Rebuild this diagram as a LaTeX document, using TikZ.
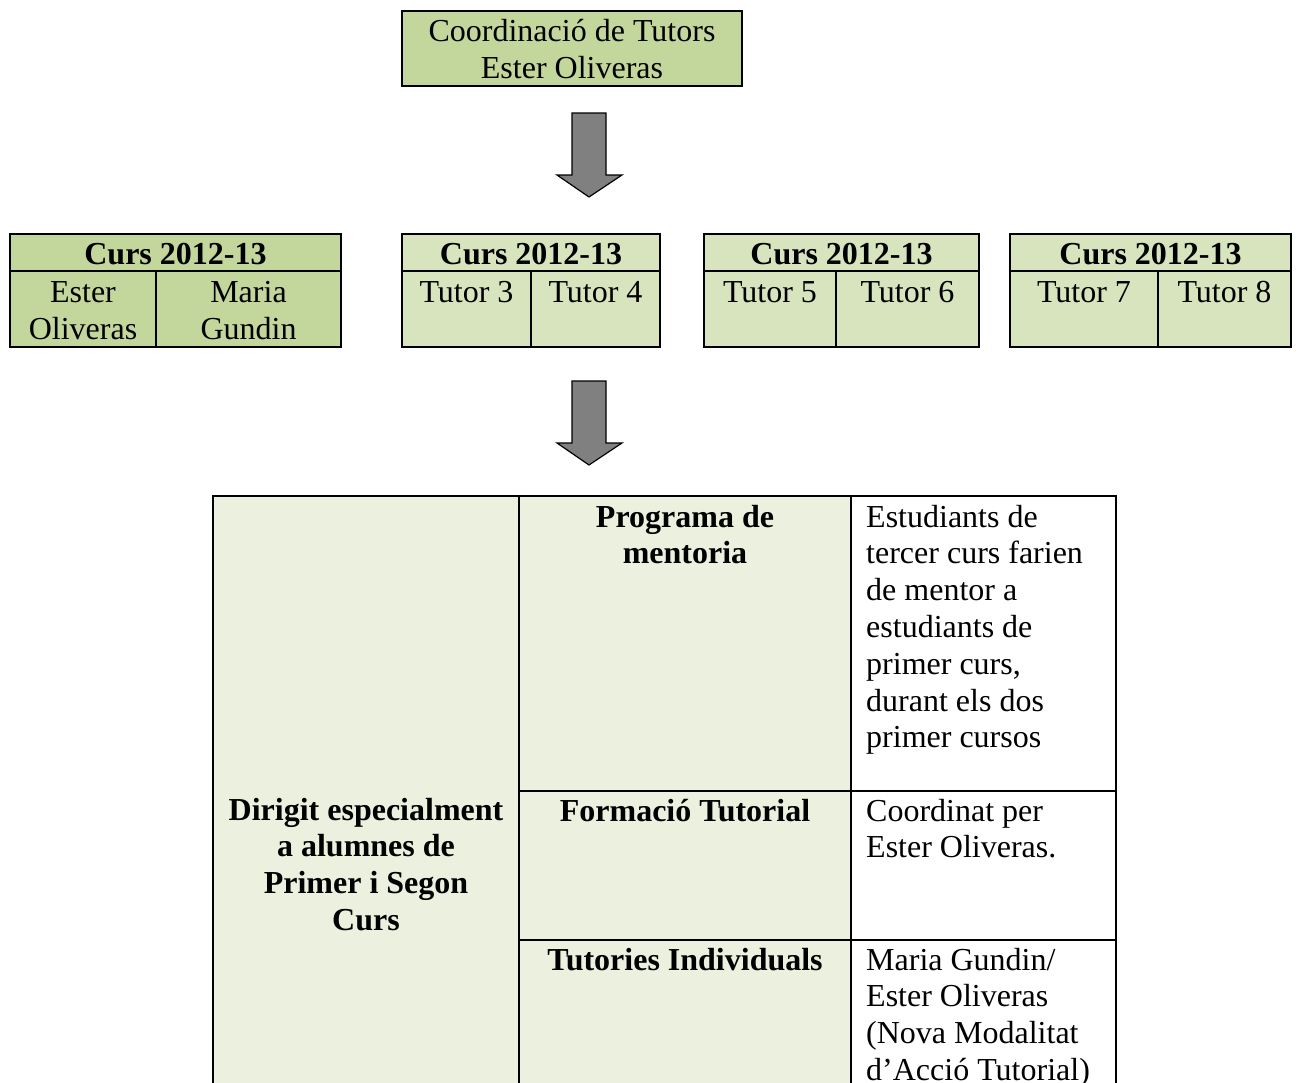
\documentclass[tikz,border=0pt]{standalone}
\usepackage{fontspec}
\setmainfont{Liberation Serif}
\definecolor{gdark}{HTML}{C3D69B}
\definecolor{glight}{HTML}{D7E4BD}
\definecolor{gpale}{HTML}{EBF1DE}
\definecolor{arrowgray}{HTML}{808080}
\begin{document}
\begin{tikzpicture}[x=1pt,y=-1pt,
  cell/.style={draw=black, line width=2pt},
  txt/.style={font=\fontsize{32}{36.8}\selectfont, inner sep=0pt, align=center, anchor=base},
  txtl/.style={font=\fontsize{32}{36.8}\selectfont, inner sep=0pt, align=left, anchor=base west},
  blockarrow/.style={draw=black, line width=1.2pt, fill=arrowgray, line join=miter}]
\useasboundingbox (0,0) rectangle (1297,1082);

% top box (multi-line nodes are placed by the baseline of their last line)
\draw[cell, fill=gdark] (402,11) rectangle (742,86);
\node[txt] (coord) at (572,78) {Coordinació de Tutors\\Ester Oliveras};

% arrow 1
\draw[blockarrow] (572,113) -- (606,113) -- (606,175) -- (622,175) -- (589,197) -- (557,175) -- (572,175) -- cycle;

% row of four tables
\draw[cell, fill=gdark] (10,234) rectangle (341,347);
\draw[cell] (10,271) -- (341,271);
\draw[cell] (156,271) -- (156,347);
\node[txt] (h1) at (175.5,264) {\bfseries Curs 2012-13};
\node[txt] (t1) at (83,339) {Ester\\Oliveras};
\node[txt] (t2) at (248.5,339) {Maria\\Gundin};

\draw[cell, fill=glight] (402,234) rectangle (660,347);
\draw[cell] (402,271) -- (660,271);
\draw[cell] (531,271) -- (531,347);
\node[txt] (h2) at (531,264) {\bfseries Curs 2012-13};
\node[txt] (t3) at (466.5,302) {Tutor 3};
\node[txt] (t4) at (595.5,302) {Tutor 4};

\draw[cell, fill=glight] (704,234) rectangle (979,347);
\draw[cell] (704,271) -- (979,271);
\draw[cell] (836,271) -- (836,347);
\node[txt] (h3) at (841.5,264) {\bfseries Curs 2012-13};
\node[txt] (t5) at (770,302) {Tutor 5};
\node[txt] (t6) at (907.5,302) {Tutor 6};

\draw[cell, fill=glight] (1010,234) rectangle (1291,347);
\draw[cell] (1010,271) -- (1291,271);
\draw[cell] (1158,271) -- (1158,347);
\node[txt] (h4) at (1150.5,264) {\bfseries Curs 2012-13};
\node[txt] (t7) at (1084,302) {Tutor 7};
\node[txt] (t8) at (1224.5,302) {Tutor 8};

% arrow 2
\draw[blockarrow] (572,381) -- (606,381) -- (606,443) -- (622,443) -- (589,465) -- (557,443) -- (572,443) -- cycle;

% bottom table
\fill[gpale] (213,496) rectangle (851,1100);
\draw[cell] (213,1100) -- (213,496) -- (1116,496) -- (1116,1100);
\draw[cell] (519,496) -- (519,1100);
\draw[cell] (851,496) -- (851,1100);
\draw[cell] (519,791) -- (1116,791);
\draw[cell] (519,940) -- (1116,940);

\node[txt] (dirigit) at (366,930.4) {\bfseries Dirigit especialment\\\bfseries a alumnes de\\\bfseries Primer i Segon\\\bfseries Curs};
\node[txt] (prog) at (685,563.8) {\bfseries Programa de\\\bfseries mentoria};
\node[txt] (form) at (685,821) {\bfseries Formació Tutorial};
\node[txt] (tut) at (685,970) {\bfseries Tutories Individuals};
\node[txtl] (est) at (866,747.8) {Estudiants de\\tercer curs farien\\de mentor a\\estudiants de\\primer curs,\\durant els dos\\primer cursos};
\node[txtl] (coordper) at (866,857.8) {Coordinat per\\Ester Oliveras.};
\node[txtl] (maria) at (866,1080.4) {Maria Gundin/\\Ester Oliveras\\(Nova Modalitat\\d’Acció Tutorial)};
\end{tikzpicture}
\end{document}
